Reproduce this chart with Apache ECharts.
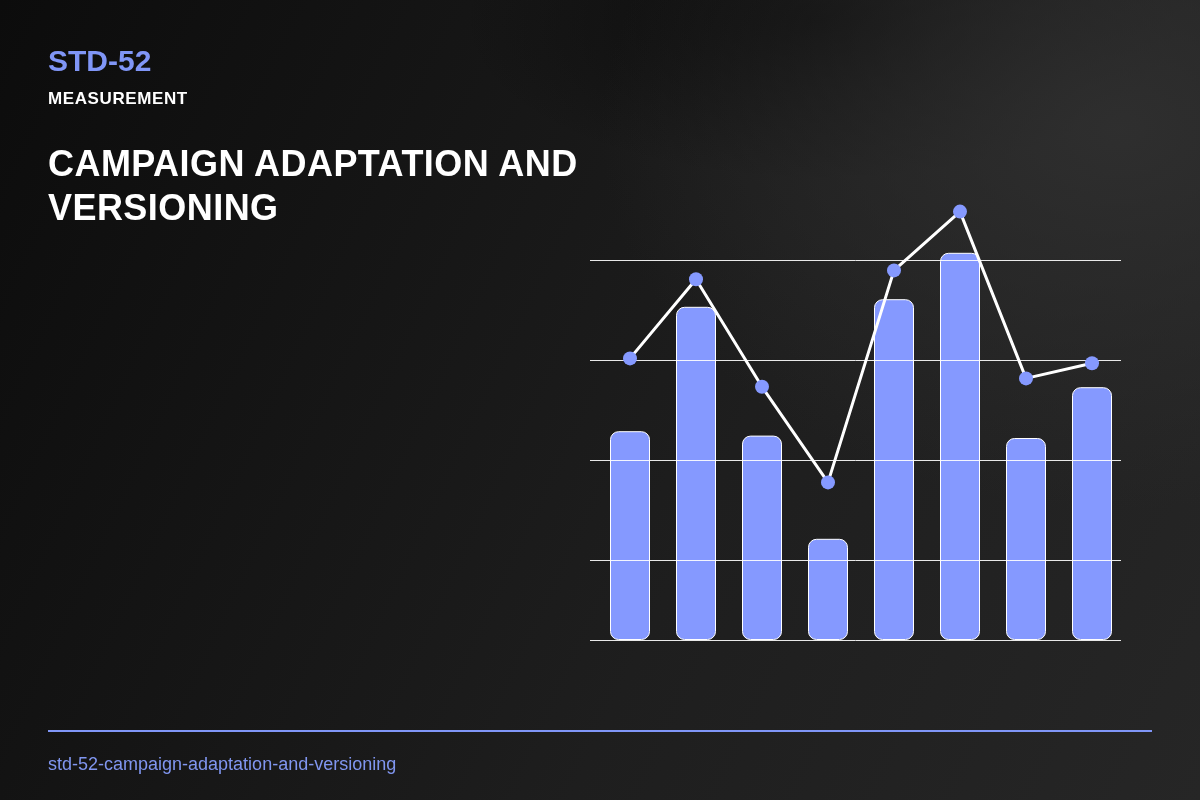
<!DOCTYPE html>
<html>
<head>
<meta charset="utf-8">
<script src="https://cdn.jsdelivr.net/npm/echarts@6/dist/echarts.min.js"></script>
<style>
    * {
        margin: 0;
        padding: 0;
    }
    body {
        width: 1200px;
        height: 800px;
        overflow: hidden;
        font-family: "Liberation Sans", Arial, sans-serif;
        background:
            radial-gradient(ellipse 520px 380px at 1120px 130px, rgba(48,48,48,0.9), rgba(48,48,48,0) 100%),
            radial-gradient(ellipse 360px 160px at 820px 20px, rgba(10,10,10,0.8), rgba(10,10,10,0) 100%),
            linear-gradient(115deg, #0c0c0c 0%, #151515 30%, #1e1e1e 60%, #262626 100%);
    }
    #page {
        position: relative;
        width: 1200px;
        height: 800px;
    }
    #chart {
        position: absolute;
        left: 0;
        top: 0;
        width: 1200px;
        height: 800px;
    }
    .txt {
        position: absolute;
        left: 48px;
        white-space: nowrap;
    }
    #code {
        top: 46px;
        font-size: 30px;
        line-height: 30px;
        font-weight: bold;
        color: #8096f7;
    }
    #kind {
        top: 90px;
        font-size: 17px;
        line-height: 17px;
        letter-spacing: 0.6px;
        font-weight: bold;
        color: #ffffff;
    }
    #title {
        top: 142px;
        font-size: 36px;
        line-height: 44px;
        letter-spacing: 0.45px;
        font-weight: bold;
        color: #ffffff;
    }
    #rule {
        position: absolute;
        left: 48px;
        top: 730px;
        width: 1104px;
        height: 2px;
        background: #8096f7;
    }
    #slug {
        top: 755px;
        font-size: 18px;
        line-height: 18px;
        color: #8096f0;
    }
</style>
</head>
<body>
<div id="page">
    <div id="chart"></div>
    <div class="txt" id="code">STD-52</div>
    <div class="txt" id="kind">MEASUREMENT</div>
    <div class="txt" id="title">CAMPAIGN ADAPTATION AND<br>VERSIONING</div>
    <div id="rule"></div>
    <div class="txt" id="slug">std-52-campaign-adaptation-and-versioning</div>
</div>
<script>
    // data
    var categories = ['V1', 'V2', 'V3', 'V4', 'V5', 'V6', 'V7', 'V8'];
    var barValues = [52.2, 83.3, 51.1, 25.3, 85.2, 96.8, 50.5, 63.2];
    var lineValues = [70.4, 90.2, 63.3, 39.4, 92.4, 107.1, 65.4, 69.2];

    var blue = '#8599ff';

    var option = {
        backgroundColor: 'transparent',
        animation: false,
        grid: [
            // bars + line
            {left: 597, right: 75, top: 200, bottom: 160},
            // guide lines
            {left: 590, right: 79, top: 260, bottom: 160}
        ],
        xAxis: [
            {
                type: 'category',
                gridIndex: 0,
                data: categories,
                show: false
            },
            {
                type: 'value',
                gridIndex: 1,
                show: false
            }
        ],
        yAxis: [
            {
                type: 'value',
                gridIndex: 0,
                min: 0,
                max: 110,
                show: false
            },
            {
                type: 'value',
                gridIndex: 1,
                inverse: true,
                min: 0,
                max: 380,
                interval: 100,
                z: 3,
                axisLine: {show: false},
                axisTick: {show: false},
                axisLabel: {show: false},
                splitLine: {
                    show: true,
                    lineStyle: {color: '#ffffff', width: 1, opacity: 0.9}
                }
            }
        ],
        series: [
            {
                type: 'bar',
                xAxisIndex: 0,
                yAxisIndex: 0,
                data: barValues,
                barWidth: 40,
                z: 2,
                itemStyle: {
                    color: blue,
                    borderColor: '#ffffff',
                    borderWidth: 1,
                    borderRadius: 8
                }
            },
            {
                type: 'line',
                xAxisIndex: 0,
                yAxisIndex: 0,
                data: lineValues,
                z: 4,
                symbol: 'circle',
                symbolSize: 14,
                lineStyle: {color: '#ffffff', width: 3},
                itemStyle: {color: blue}
            }
        ]
    };

    var myChart = echarts.init(document.getElementById('chart'));
    myChart.setOption(option);
</script>
</body>
</html>
